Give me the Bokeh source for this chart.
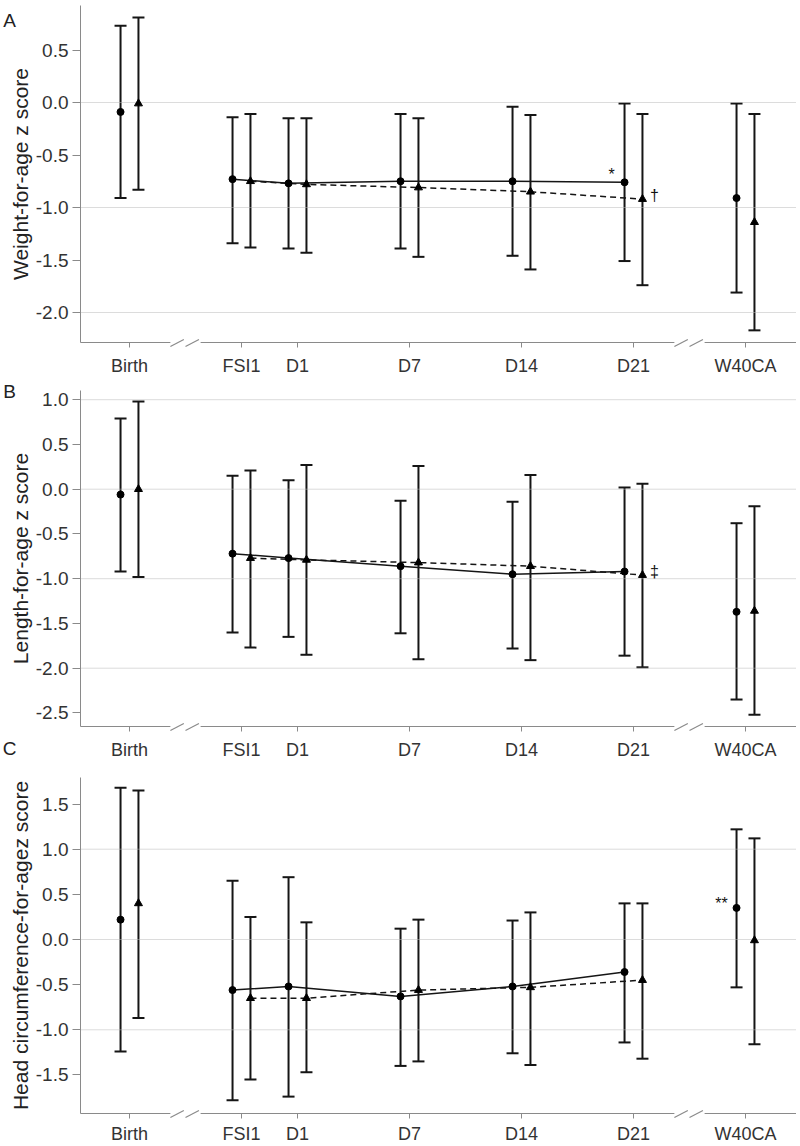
import math
from bokeh.plotting import figure
from bokeh.models import FixedTicker, Whisker, TeeHead, ColumnDataSource, Label, NumeralTickFormatter
from bokeh.layouts import column
from bokeh.embed import file_html
from bokeh.resources import INLINE
from bokeh.core.properties import value

# ---------------- data ----------------
time_labels = ["Birth", "FSI1", "D1", "D7", "D14", "D21", "W40CA"]
time_pos = [0, 2, 3, 5, 7, 9, 11]
break_pos = [1, 10]

# Panel A: weight-for-age z score (circle group / triangle group)
wt_circ_mean = [-0.09, -0.73, -0.77, -0.75, -0.75, -0.76, -0.91]
wt_circ_high = [0.73, -0.14, -0.15, -0.11, -0.04, -0.01, -0.01]
wt_circ_low = [-0.91, -1.34, -1.39, -1.39, -1.46, -1.51, -1.81]
wt_tri_mean = [-0.01, -0.75, -0.78, -0.81, -0.85, -0.92, -1.14]
wt_tri_high = [0.81, -0.11, -0.15, -0.15, -0.12, -0.11, -0.11]
wt_tri_low = [-0.83, -1.38, -1.43, -1.47, -1.59, -1.74, -2.17]

# Panel B: length-for-age z score
ln_circ_mean = [-0.06, -0.72, -0.77, -0.86, -0.95, -0.92, -1.37]
ln_circ_high = [0.79, 0.15, 0.10, -0.13, -0.14, 0.02, -0.38]
ln_circ_low = [-0.92, -1.60, -1.65, -1.61, -1.78, -1.86, -2.35]
ln_tri_mean = [0.00, -0.77, -0.79, -0.82, -0.86, -0.96, -1.36]
ln_tri_high = [0.98, 0.21, 0.27, 0.26, 0.16, 0.06, -0.19]
ln_tri_low = [-0.98, -1.77, -1.85, -1.90, -1.91, -1.99, -2.52]

# Panel C: head circumference-for-age z score
hc_circ_mean = [0.22, -0.56, -0.52, -0.63, -0.52, -0.36, 0.35]
hc_circ_high = [1.68, 0.65, 0.69, 0.12, 0.21, 0.40, 1.22]
hc_circ_low = [-1.24, -1.78, -1.74, -1.40, -1.26, -1.14, -0.53]
hc_tri_mean = [0.40, -0.65, -0.65, -0.56, -0.53, -0.45, -0.01]
hc_tri_high = [1.65, 0.25, 0.19, 0.22, 0.30, 0.40, 1.12]
hc_tri_low = [-0.87, -1.55, -1.47, -1.35, -1.39, -1.32, -1.16]

# significance marks: (symbol, group, time index)
notes_A = [("*", "circ", 5), ("\u2020", "tri", 5)]
notes_B = [("\u2021", "tri", 5)]
notes_C = [("**", "circ", 6)]

yticks_A = [-2.0, -1.5, -1.0, -0.5, 0.0, 0.5]
yticks_B = [-2.5, -2.0, -1.5, -1.0, -0.5, 0.0, 0.5, 1.0]
yticks_C = [-1.5, -1.0, -0.5, 0.0, 0.5, 1.0, 1.5]

ylabel_A = "Weight-for-age z score"
ylabel_B = "Length-for-age z score"
ylabel_C = "Head circumference-for-agez score"

# ---------------- style / layout (pixel geometry of the page) ----------------
FONT = "Liberation Sans"
W = 796
PX_PER_UNIT = 56.0
BIRTH_PX = 129
XMIN = -BIRTH_PX / PX_PER_UNIT
XMAX = XMIN + W / PX_PER_UNIT


def x_of(px):
    return XMIN + px / PX_PER_UNIT


AXIS_X = x_of(80)
OFF = 0.16
AXIS_C = "#8a8a8a"
INK = "#151515"


def make_panel(ylabel, yticks, zero_px, ppu, top_px, bot_px, ax_top_px, ax_bot_px,
               label_standoff, cm, ch, cl, tm, th, tl, notes, letters):
    def val(px):
        return (zero_px - px) / ppu

    H = bot_px - top_px
    yr = (val(bot_px), val(top_px))
    y_line = val(ax_bot_px)
    y_axtop = val(ax_top_px)
    p = figure(width=W, height=H, x_range=(XMIN, XMAX), y_range=yr,
               output_backend="svg", toolbar_location=None, min_border=0,
               min_border_left=0, min_border_right=0, min_border_top=0, min_border_bottom=0)
    p.outline_line_color = None
    p.background_fill_color = "white"
    p.border_fill_color = "white"
    p.xgrid.visible = False
    p.ygrid.visible = False

    # dotted horizontal reference lines at integer ticks
    gy = [t for t in yticks if float(t).is_integer()]
    p.segment(x0=[AXIS_X] * len(gy), y0=gy, x1=[XMAX] * len(gy), y1=gy,
              line_color="#b8b8b8", line_width=1, line_dash="1 1")

    # y axis (placed at fixed location inside the canvas)
    yax = p.yaxis[0]
    yax.fixed_location = AXIS_X
    yax.ticker = FixedTicker(ticks=yticks)
    yax.bounds = (y_line, y_axtop)
    yax.formatter = NumeralTickFormatter(format="0.0")
    yax.major_label_text_font = FONT
    yax.major_label_text_font_size = "19px"
    yax.major_label_text_color = "#333333"
    yax.major_label_standoff = 4
    yax.major_tick_out = 8
    yax.major_tick_in = 0
    yax.minor_tick_line_color = None
    yax.axis_line_color = AXIS_C
    yax.major_tick_line_color = AXIS_C

    # x axis (line drawn as broken segments)
    xax = p.xaxis[0]
    xax.fixed_location = y_line
    xax.ticker = FixedTicker(ticks=time_pos)
    xax.major_label_overrides = {t: l for t, l in zip(time_pos, time_labels)}
    xax.major_label_text_font = FONT
    xax.major_label_text_font_size = "18px"
    xax.major_label_text_color = "#333333"
    xax.major_label_standoff = label_standoff
    xax.major_tick_out = 5
    xax.major_tick_in = 0
    xax.minor_tick_line_color = None
    xax.axis_line_color = None
    xax.major_tick_line_color = AXIS_C

    px_y = 1.0 / ppu
    gap = 0.27
    xs0 = [AXIS_X] + [b + gap for b in break_pos]
    xs1 = [b - gap for b in break_pos] + [XMAX]
    p.segment(x0=xs0, y0=[y_line] * len(xs0), x1=xs1, y1=[y_line] * len(xs1),
              line_color=AXIS_C, line_width=1)
    sx0, sy0, sx1, sy1 = [], [], [], []
    for b in break_pos:
        for dx in (-0.27, 0.0):
            sx0.append(b + dx)
            sy0.append(y_line - 4 * px_y)
            sx1.append(b + dx + 0.24)
            sy1.append(y_line + 3 * px_y)
    p.segment(x0=sx0, y0=sy0, x1=sx1, y1=sy1, line_color=AXIS_C, line_width=1.2)

    # y-axis title
    p.add_layout(Label(x=x_of(19.5), y=val((ax_top_px + ax_bot_px) / 2), text=ylabel,
                       angle=math.pi / 2, text_align="center", text_baseline="middle",
                       text_font=FONT, text_font_size="21px", text_color="#222222"))
    # panel letters
    for letter, lpx in letters:
        p.add_layout(Label(x=x_of(9), y=val(lpx), text=letter, text_align="center",
                           text_baseline="middle", text_font=FONT, text_font_size="19px",
                           text_color="#222222"))

    xc = [t - OFF for t in time_pos]
    xt = [t + OFF for t in time_pos]
    src_c = ColumnDataSource(dict(x=xc, m=cm, hi=ch, lo=cl))
    src_t = ColumnDataSource(dict(x=xt, m=tm, hi=th, lo=tl))

    for src in (src_c, src_t):
        p.add_layout(Whisker(base="x", upper="hi", lower="lo", source=src,
                             dimension="height", line_color=INK, line_width=2,
                             upper_head=TeeHead(size=12, line_width=2, line_color=INK),
                             lower_head=TeeHead(size=12, line_width=2, line_color=INK)))

    # connecting lines FSI1 .. D21
    p.line(xc[1:6], cm[1:6], line_color=INK, line_width=1.5)
    p.line(xt[1:6], tm[1:6], line_color=INK, line_width=1.5, line_dash="6 4")

    p.scatter("x", "m", source=src_c, marker="circle", size=7, color="black")
    p.scatter("x", "m", source=src_t, marker="triangle", size=8, color="black")

    # significance symbols
    for sym, grp, i in notes:
        if grp == "circ":
            x, y = xc[i], cm[i]
            xo = -15 if sym == "**" else -13
            yo = -4 if sym == "**" else -8
        else:
            x, y = xt[i], tm[i]
            xo = 12
            yo = -4
        p.text(x=[x], y=[y], text=[sym], x_offset=xo, y_offset=yo,
               text_font=value(FONT), text_font_size="16px", text_color="#111111",
               text_align="center", text_baseline="middle")
    return p


pA = make_panel(ylabel_A, yticks_A, 102.0, 105.0, 0, 378, 5, 342, 8,
                wt_circ_mean, wt_circ_high, wt_circ_low,
                wt_tri_mean, wt_tri_high, wt_tri_low, notes_A, [("A", 20)])
pB = make_panel(ylabel_B, yticks_B, 488.7, 89.5, 378, 760, 390, 726, 8,
                ln_circ_mean, ln_circ_high, ln_circ_low,
                ln_tri_mean, ln_tri_high, ln_tri_low, notes_B, [("B", 391), ("C", 748)])
pC = make_panel(ylabel_C, yticks_C, 939.0, 90.3, 760, 1146, 777, 1113, 5,
                hc_circ_mean, hc_circ_high, hc_circ_low,
                hc_tri_mean, hc_tri_high, hc_tri_low, notes_C, [])

layout = column(pA, pB, pC, spacing=0)
open("out.html", "w").write(file_html(layout, INLINE))
